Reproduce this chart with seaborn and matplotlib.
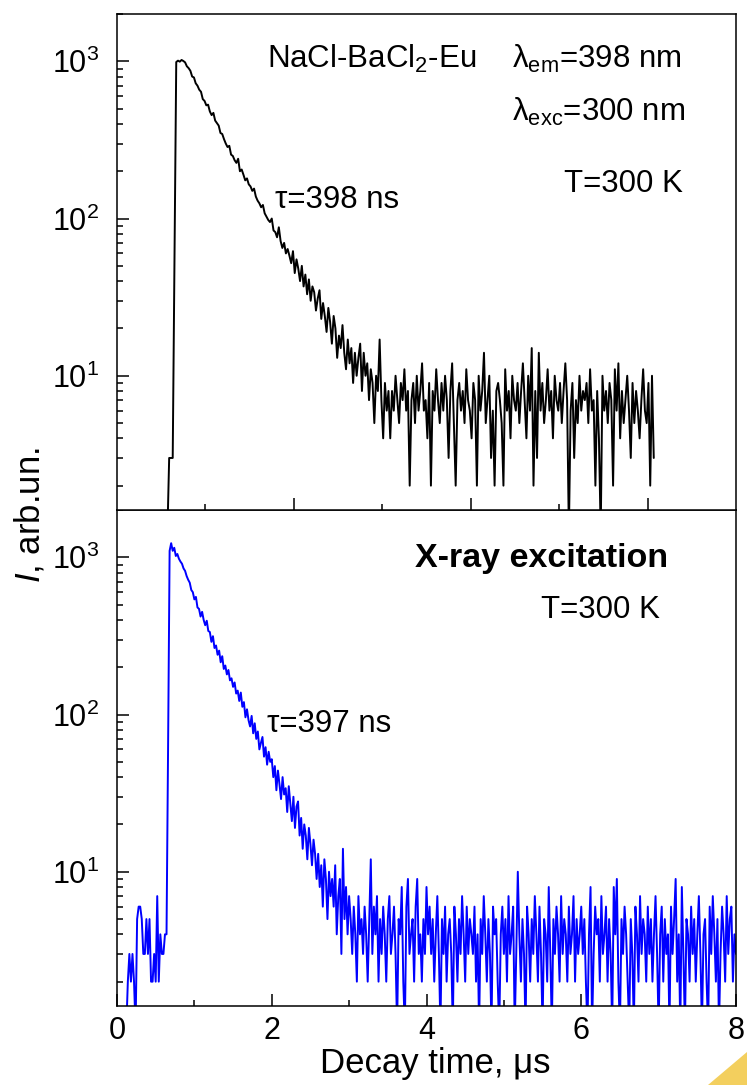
import numpy as np
import matplotlib
matplotlib.use("Agg")
import matplotlib.pyplot as plt
from matplotlib.ticker import LogLocator, NullFormatter, FixedLocator
from matplotlib.patches import Polygon
import seaborn as sns

# ---------------- data ----------------
# top panel: NaCl-BaCl2-Eu, photo-excitation (time channels of 0.02 us starting at 0.55 us)
T0_TOP = 0.55
DT_TOP = 0.02
counts_top_rise = [1, 1, 3, 3, 3, 55, 990, 1010, 995, 1020, 1005]
counts_top_decay = [
    985, 930, 905, 870, 800, 790, 725, 700, 660, 640,
    575, 560, 525, 530, 480, 455, 470, 420, 405, 390,
    350, 345, 320, 300, 285, 290, 255, 250, 235, 226,
    240, 200, 205, 190, 175, 180, 165, 160, 150, 155,
    138, 130, 125, 118, 122, 108, 103, 98, 95, 100,
    84, 82, 76, 88, 72, 65, 70, 60, 64, 58,
    52, 62, 45, 55, 48, 40, 50, 37, 44, 33,
    41, 30, 37, 34, 26, 31, 35, 23, 29, 24,
    19, 27, 22, 16, 24, 20, 13, 18, 15, 21,
    14, 11, 17, 12, 15, 9, 14, 10, 13, 16,
    8, 14, 10, 12, 7, 11, 9, 5, 10, 8,
    17, 7, 4, 9, 6, 8, 4,
]
counts_top_floor = [
    8, 6, 10, 7, 5, 9, 7, 11, 6, 8,
    2, 7, 9, 5, 10, 6, 8, 12, 6, 7,
    4, 9, 2, 8, 6, 11, 7, 5, 9, 6,
    10, 7, 3, 8, 12, 5, 2, 7, 9, 6,
    8, 5, 11, 7, 6, 4, 9, 7, 2, 10,
    6, 8, 14, 5, 7, 10, 3, 6, 2, 8,
    9, 7, 5, 2, 11, 6, 8, 4, 10, 7,
    6, 9, 5, 8, 12, 7, 4, 10, 6, 15,
    2, 8, 3, 14, 6, 9, 5, 7, 11, 6,
    8, 4, 10, 7, 6, 9, 5, 8, 12, 7,
    1, 6, 9, 3, 7, 5, 10, 6, 8, 7,
    9, 5, 11, 6, 7, 2, 8, 4, 1, 10,
    6, 8, 5, 9, 7, 2, 11, 6, 12, 4,
    8, 5, 7, 10, 6, 3, 9, 5, 8, 6,
    4, 7, 11, 6, 5, 9, 2, 10, 3,
]

# bottom panel: X-ray excitation (time channels of 0.02 us starting at 0.10 us)
T0_BOT = 0.10
DT_BOT = 0.02
counts_bot_rise = [
    1, 1, 2, 3, 2, 3, 2, 1, 5, 6,
    6, 5, 3, 3, 5, 3, 5, 2, 2, 3,
    2, 7, 2, 4, 3, 3, 4, 4, 60, 1100,
    1230, 1100, 1150, 1020, 1050,
]
counts_bot_decay = [
    980, 940, 910, 850, 820, 760, 720, 690, 620, 600,
    540, 560, 480, 470, 420, 450, 400, 370, 395, 340,
    335, 290, 315, 265, 275, 240, 255, 215, 235, 195,
    205, 180, 192, 165, 170, 150, 160, 136, 142, 122,
    138, 112, 120, 96, 108, 92, 84, 98, 76, 88,
    70, 78, 60, 66, 72, 54, 62, 48, 58, 50,
    52, 40, 47, 33, 44, 36, 29, 40, 31, 34,
    24, 35, 27, 21, 30, 19, 26, 28, 17, 22,
    14, 20, 17, 12, 19, 15, 11, 16, 13, 9,
    13, 8, 11, 6, 12, 9, 5, 10, 7, 9,
    6, 11, 4, 7, 9, 3, 14, 5, 8, 4, 7,
]
counts_bot_floor = [
    5, 3, 6, 4, 2, 7, 4, 5, 3, 6,
    4, 2, 5, 12, 3, 6, 4, 7, 2, 5,
    3, 6, 4, 2, 5, 7, 3, 4, 6, 3,
    1, 5, 4, 8, 2, 1, 6, 9, 3, 4,
    5, 2, 6, 9, 3, 4, 2, 5, 3, 8,
    4, 6, 3, 5, 2, 4, 7, 3, 1, 5,
    3, 6, 2, 4, 5, 3, 1, 6, 4, 2,
    5, 3, 7, 4, 2, 6, 3, 5, 4, 3,
    6, 2, 4, 1, 5, 3, 7, 4, 2, 5,
    3, 1, 6, 4, 5, 2, 1, 4, 6, 3,
    5, 2, 7, 3, 4, 6, 1, 3, 10, 4,
    2, 5, 3, 1, 6, 4, 2, 5, 3, 7,
    4, 2, 6, 3, 1, 5, 4, 2, 8, 3,
    1, 5, 3, 6, 4, 2, 7, 3, 5, 4,
    2, 6, 3, 4, 7, 2, 5, 3, 4, 6,
    3, 5, 2, 1, 4, 8, 1, 3, 6, 4,
    5, 2, 7, 3, 4, 6, 2, 5, 3, 1,
    8, 4, 9, 2, 1, 5, 3, 6, 4, 2,
    1, 5, 3, 1, 6, 4, 2, 7, 3, 5,
    4, 2, 6, 3, 5, 2, 4, 7, 3, 1,
    4, 6, 2, 5, 3, 4, 1, 6, 3, 5,
    9, 2, 4, 1, 8, 3, 1, 5, 4, 2,
    6, 3, 5, 2, 4, 7, 3, 1, 4, 5,
    2, 1, 6, 3, 7, 4, 2, 5, 1, 3,
    6, 4, 2, 7, 3, 5, 6, 2, 4, 3,
]

x_major_top = [2, 4, 6]
x_minor_top = [1, 3, 5]
x_major_bot = [0, 2, 4, 6, 8]
x_minor_bot = [1, 3, 5, 7]

# ---------------- assemble ----------------
counts_top = np.array(counts_top_rise + counts_top_decay + counts_top_floor, float)
t_top = T0_TOP + DT_TOP * np.arange(len(counts_top))
counts_bot = np.array(counts_bot_rise + counts_bot_decay + counts_bot_floor, float)
t_bot = T0_BOT + DT_BOT * np.arange(len(counts_bot))

# ---------------- style ----------------
sns.set_style("ticks")
plt.rcParams["font.family"] = ["Liberation Sans", "DejaVu Sans"]
plt.rcParams["mathtext.fontset"] = "custom"
plt.rcParams["mathtext.rm"] = "Liberation Sans"
plt.rcParams["mathtext.it"] = "Liberation Sans:italic"
plt.rcParams["mathtext.bf"] = "Liberation Sans:bold"
for key in ("text.color", "axes.labelcolor", "xtick.color", "ytick.color",
            "axes.edgecolor"):
    plt.rcParams[key] = "black"

W, H = 747, 1085
fig = plt.figure(figsize=(W / 100, H / 100), dpi=100)
fig.patch.set_facecolor("white")

L, R = 117, 736
ax1 = fig.add_axes([L / W, 1 - 510 / H, (R - L) / W, 496 / H])
ax2 = fig.add_axes([L / W, 1 - 1006 / H, (R - L) / W, 496 / H])

sns.lineplot(x=t_top, y=counts_top, ax=ax1, color="black", linewidth=1.4)
sns.lineplot(x=t_bot, y=counts_bot, ax=ax2, color="#0000ff", linewidth=1.4)

TICK_FS = 22
ANN_FS = 22.5
LAB_FS = 25
for ax in (ax1, ax2):
    ax.set_yscale("log")
    ax.set_ylim(1.4, 2000)
    ax.yaxis.set_major_locator(LogLocator(base=10))
    ax.yaxis.set_minor_locator(LogLocator(base=10, subs=np.arange(2, 10)))
    ax.yaxis.set_minor_formatter(NullFormatter())
    for sp in ax.spines.values():
        sp.set_linewidth(1.1)
        sp.set_color("black")
        sp.set_visible(True)
    ax.tick_params(which="both", direction="in", top=False, right=False,
                   left=True, bottom=True, width=1.1, colors="black",
                   labelcolor="black")
    ax.tick_params(which="major", length=8.5, labelsize=TICK_FS)
    ax.tick_params(axis="y", which="major", pad=13)
    ax.tick_params(which="minor", length=4.5)
    ax.set_xlabel("")
    ax.set_ylabel("")
    ax.set_facecolor("white")

ax1.set_xlim(0, 7)
ax1.xaxis.set_major_locator(FixedLocator(x_major_top))
ax1.xaxis.set_minor_locator(FixedLocator(x_minor_top))
ax1.tick_params(axis="x", labelbottom=False)

ax2.set_xlim(0, 8)
ax2.xaxis.set_major_locator(FixedLocator(x_major_bot))
ax2.xaxis.set_minor_locator(FixedLocator(x_minor_bot))
ax2.tick_params(axis="x", pad=7)
ax1.set_zorder(3)

# ---------------- annotations ----------------
ax1.text(0.242, 0.892, "NaCl-BaCl$_\\mathregular{2}$-Eu", transform=ax1.transAxes,
         fontsize=ANN_FS, ha="left", va="baseline", color="black")
ax1.text(0.912, 0.892, "λ$_\\mathregular{em}$=398 nm", transform=ax1.transAxes,
         fontsize=ANN_FS, ha="right", va="baseline", color="black")
ax1.text(0.918, 0.785, "λ$_\\mathregular{exc}$=300 nm", transform=ax1.transAxes,
         fontsize=ANN_FS, ha="right", va="baseline", color="black")
ax1.text(0.914, 0.642, "T=300 K", transform=ax1.transAxes,
         fontsize=ANN_FS, ha="right", va="baseline", color="black")
ax1.text(0.255, 0.609, "τ=398 ns", transform=ax1.transAxes,
         fontsize=ANN_FS, ha="left", va="baseline", color="black")

ax2.text(0.89, 0.886, "X-ray excitation", transform=ax2.transAxes,
         fontsize=24.5, fontweight="bold", ha="right", va="baseline", color="black")
ax2.text(0.877, 0.782, "T=300 K", transform=ax2.transAxes,
         fontsize=ANN_FS, ha="right", va="baseline", color="black")
ax2.text(0.242, 0.553, "τ=397 ns", transform=ax2.transAxes,
         fontsize=ANN_FS, ha="left", va="baseline", color="black")

fig.text(30 / W, 1 - 515 / H, "$\\mathit{I}$, arb.un.", rotation=90,
         fontsize=LAB_FS, ha="center", va="center", color="black")
fig.text(435 / W, 1 - 1064 / H, "Decay time, μs",
         fontsize=LAB_FS, ha="center", va="center", color="black")

# yellow corner decoration seen in the reference
fig.patches.append(Polygon([[708 / W, 0.0], [1.0, 1 - 1052 / H], [1.0, 0.0]],
                           closed=True, transform=fig.transFigure,
                           facecolor="#f3cf5e", edgecolor="none", zorder=0))

fig.savefig("out.png", dpi=100, facecolor="white")
